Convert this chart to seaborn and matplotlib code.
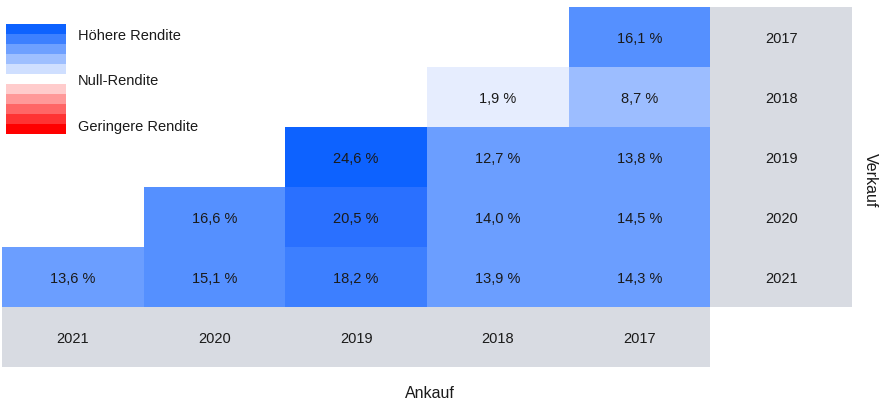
import numpy as np
import pandas as pd
import matplotlib
matplotlib.use("Agg")
import matplotlib.pyplot as plt
from matplotlib.colors import ListedColormap, BoundaryNorm
from matplotlib.patches import Rectangle
import seaborn as sns

# data: rows = Verkauf (sale year), cols = Ankauf (purchase year)
ankauf = ["2021", "2020", "2019", "2018", "2017"]
verkauf = ["2017", "2018", "2019", "2020", "2021"]
r2017 = [np.nan, np.nan, np.nan, np.nan, 16.1]
r2018 = [np.nan, np.nan, np.nan, 1.9, 8.7]
r2019 = [np.nan, np.nan, 24.6, 12.7, 13.8]
r2020 = [np.nan, 16.6, 20.5, 14.0, 14.5]
r2021 = [13.6, 15.1, 18.2, 13.9, 14.3]

legend_labels = ["Höhere Rendite", "Null-Rendite", "Geringere Rendite"]

df = pd.DataFrame([r2017, r2018, r2019, r2020, r2021], index=verkauf, columns=ankauf)
labels = df.apply(lambda c: c.map(lambda v: "" if pd.isna(v) else f"{v:.1f} %".replace(".", ",")))

# binned blue scale
bounds = [0, 5, 10, 15, 17, 19, 22, 30]
cmap = ListedColormap(["#e6edfe", "#9cbdff", "#6b9eff", "#5590ff", "#3d7fff", "#2a70ff", "#0d62ff"])
norm = BoundaryNorm(bounds, cmap.N)

plt.rcParams["font.family"] = ["Liberation Sans", "DejaVu Sans"]
fig = plt.figure(figsize=(8.8, 4.03), dpi=100)
W, H = 880, 403
ax = fig.add_axes([2 / W, 1 - 367 / H, 850 / W, 360 / H])

sns.heatmap(df, ax=ax, cmap=cmap, norm=norm, cbar=False, mask=df.isna(),
            annot=labels.values, fmt="", annot_kws={"color": "#1a1a1a", "fontsize": 10.5},
            linewidths=0)
# nudge cell labels slightly down
for t in ax.texts:
    x, y = t.get_position()
    t.set_position((x, y + 0.04))

ax.set_xlim(0, 6)
ax.set_ylim(6, 0)
gray = "#d8dbe2"
ax.add_patch(Rectangle((5, 0), 1, 5, color=gray, lw=0))
ax.add_patch(Rectangle((0, 5), 5, 1, color=gray, lw=0))
for i, y in enumerate(verkauf):
    ax.text(5.5, i + 0.54, y, ha="center", va="center", fontsize=10.5, color="#1a1a1a")
for j, x in enumerate(ankauf):
    ax.text(j + 0.5, 5.54, x, ha="center", va="center", fontsize=10.5, color="#1a1a1a")
ax.set_xticks([])
ax.set_yticks([])
ax.set_xlabel("")
ax.set_ylabel("")
for s in ax.spines.values():
    s.set_visible(False)

fig.text(430 / W, 1 - 394 / H, "Ankauf", ha="center", va="center", fontsize=11.5, color="#1a1a1a")
fig.text(870 / W, 1 - 180 / H, "Verkauf", ha="center", va="center", rotation=270,
         fontsize=11.5, color="#1a1a1a")

# legend swatches
lax = fig.add_axes([6 / W, 1 - 134 / H, 60 / W, 110 / H])
swatches = ["#0d62ff", "#3d80ff", "#6ea0ff", "#9ebfff", "#cfdfff", "#ffffff",
            "#ffcccc", "#ff9999", "#ff6666", "#ff3333", "#ff0000"]
for k, c in enumerate(swatches):
    lax.add_patch(Rectangle((0, k), 1, 1, color=c, lw=0))
lax.set_xlim(0, 1)
lax.set_ylim(len(swatches), 0)
lax.axis("off")
for lab, ypx in zip(legend_labels, [36, 81, 127]):
    fig.text(78 / W, 1 - ypx / H, lab, ha="left", va="center", fontsize=10.5, color="#1a1a1a")

fig.savefig("out.png", dpi=100)
